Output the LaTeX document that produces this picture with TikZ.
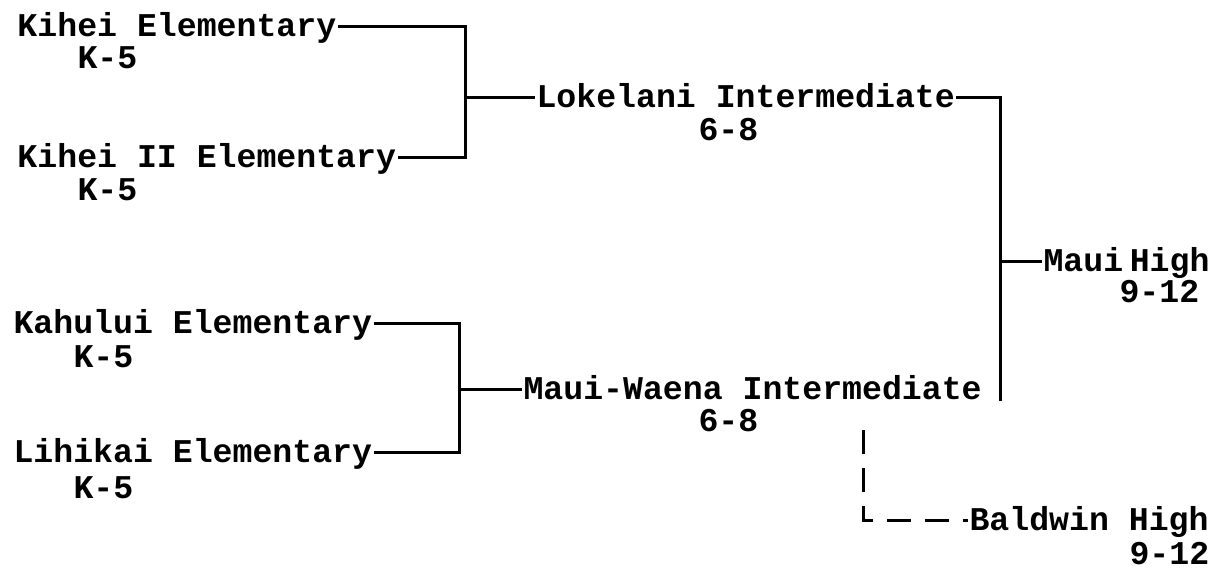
\documentclass[tikz,border=0pt]{standalone}
\usepackage{fontspec}
\newfontfamily\schoolfont{Liberation Mono}
\usetikzlibrary{positioning}

\begin{document}
\begin{tikzpicture}[x=0.5pt, y=-0.5pt, line width=1.5pt,
    school/.style={inner sep=0pt, anchor=west, text height=10pt, text depth=0pt, font=\schoolfont\bfseries\fontsize{16.6}{20}\selectfont},
    grade/.style={inner sep=0pt, anchor=base west, font=\schoolfont\bfseries\fontsize{16.6}{20}\selectfont}]
    \useasboundingbox (0,0) rectangle (1225,573);

    % elementary schools
    \node[school] (kihei) at (16,26) {Kihei Elementary};
    \node[grade] (kiheiG) at (76,68) {K-5};
    \node[school] (kiheitwo) at (16,157) {Kihei II Elementary};
    \node[grade] (kiheitwoG) at (76,200) {K-5};
    \node[school] (kahului) at (12,323) {Kahului Elementary};
    \node[grade] (kahuluiG) at (72,367) {K-5};
    \node[school] (lihikai) at (12,452) {Lihikai Elementary};
    \node[grade] (lihikaiG) at (72,498) {K-5};

    % intermediate schools
    \node[school] (loke) at (535,97) {Lokelani Intermediate};
    \node[grade] (lokeG) at (697,140) {6-8};
    \node[school] (mwaena) at (522,389) {Maui-Waena Intermediate};
    \node[grade] (mwaenaG) at (697,431) {6-8};

    % high schools
    \node[school] (mhigh) at (1042,261) {Maui\hspace{0.2em}High};
    \node[grade] (mhighG) at (1118,302) {9-12};
    \node[school] (baldwin) at (968,520) {Baldwin High};
    \node[grade] (baldwinG) at (1128,564) {9-12};

    \coordinate (jtop) at (465,97);
    \coordinate (jbot) at (459,389);
    \coordinate (jright) at (1000,261);
    \coordinate (jdash) at (863,430);

    \draw (kihei.east) -| (jtop) |- (kiheitwo.east);
    \draw (jtop) -- (loke.west);
    \draw (kahului.east) -| (jbot) |- (lihikai.east);
    \draw (jbot) -- (mwaena.west);
    \draw (loke.east) -| (jright) -- (jright |- mwaena.south);
    \draw (jright) -- (mhigh.west);
    \draw[dash pattern=on 12pt off 7pt] (jdash) |- (baldwin.west);
\end{tikzpicture}
\end{document}
